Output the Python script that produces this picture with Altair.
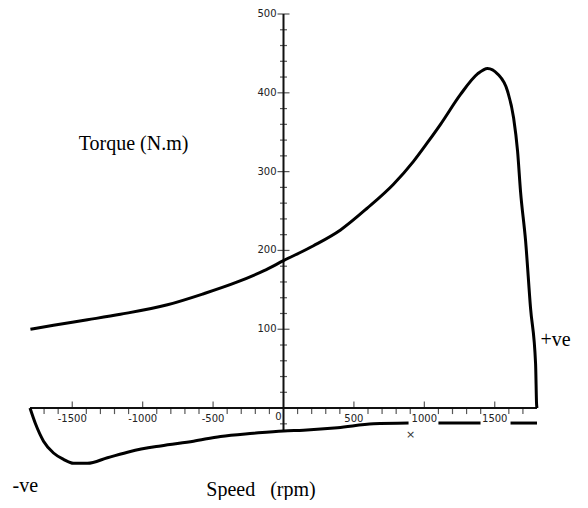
import altair as alt
import pandas as pd

# ---- data ----
# upper (motoring) torque-speed curve
up_speed = [-1797, -1633, -1392, -1158, -824, -568, -327, -142, 0, 213, 405, 597, 781,
            923, 1023, 1115, 1257, 1378, 1449, 1520, 1591, 1634, 1662, 1683, 1719, 1754,
            1790, 1797, 1800]
up_torque = [100, 105, 112, 119, 131, 145, 160, 174, 187, 206, 226, 254, 284,
             313, 337, 360, 398, 424, 431, 424, 402, 368, 326, 275, 212, 127,
             56, 5, 0]

# lower (braking) curve, drawn in three pieces (gaps where tick labels sit)
low_speed = [-1800, -1761, -1704, -1633, -1562, -1491, -1392, -1250, -1087, -873, -639,
             -447, -213, 0, 142, 384, 639, 888,
             1100, 1399,
             1612, 1800]
low_torque = [0, -20, -42, -57, -65, -70, -70, -63, -55, -48, -42,
              -36, -32, -29, -28, -25, -20, -19,
              -19, -19,
              -19, -19]
low_piece = ["a"] * 18 + ["b"] * 2 + ["c"] * 2

x_tick_labels = [-1500, -1000, -500, 500, 1000, 1500]
y_tick_labels = [100, 200, 300, 400, 500]
x_minor = [v for v in range(-1700, 1800, 100) if v % 500 != 0]
y_minor = [v for v in range(-20, 500, 20) if v % 100 != 0]

ann_text = ["Torque (N.m)", "+ve", "-ve", "Speed\u00a0\u00a0\u00a0(rpm)"]
ann_x = [-1065, 1825, -1924, -160]
ann_y = [335, 86, -99, -112]
ann_align = ["center", "left", "left", "center"]
ann_base = ["middle", "middle", "middle", "alphabetic"]
ann_size = [20, 20, 20, 20]

X_DOM = [-1800, 1800]
Y_DOM = [-90, 500]

xs = alt.Scale(domain=X_DOM, nice=False, zero=False)
ys = alt.Scale(domain=Y_DOM, nice=False, zero=False)


def X(field="x"):
    return alt.X(f"{field}:Q", scale=xs, axis=None)


def Y(field="y"):
    return alt.Y(f"{field}:Q", scale=ys, axis=None)


up_df = pd.DataFrame({"x": up_speed, "y": up_torque})
low_df = pd.DataFrame({"x": low_speed, "y": low_torque, "piece": low_piece})

upper = alt.Chart(up_df).mark_line(color="black", strokeWidth=3, interpolate="monotone").encode(
    x=X(), y=Y())
lower = alt.Chart(low_df).mark_line(color="black", strokeWidth=3, interpolate="monotone").encode(
    x=X(), y=Y(), detail="piece:N")

# axes drawn through the scales
xaxis_df = pd.DataFrame({"x": [X_DOM[0]], "x2": [X_DOM[1]], "y": [0]})
yaxis_df = pd.DataFrame({"x": [0], "y": [-29], "y2": [500]})
xaxis = alt.Chart(xaxis_df).mark_rule(color="#111", strokeWidth=2).encode(
    x=X(), x2="x2:Q", y=Y())
yaxis = alt.Chart(yaxis_df).mark_rule(color="#111", strokeWidth=2).encode(
    x=X(), y=Y(), y2="y2:Q")

xmin_df = pd.DataFrame({"x": x_minor, "y": 0})
xmaj_df = pd.DataFrame({"x": x_tick_labels, "y": 0})
ymin_df = pd.DataFrame({"x": 0, "y": y_minor})
ymaj_df = pd.DataFrame({"x": 0, "y": y_tick_labels})

xminor_t = alt.Chart(xmin_df).mark_tick(orient="vertical", color="#111", size=6,
                                        thickness=1.2, yOffset=3).encode(x=X(), y=Y())
xmajor_t = alt.Chart(xmaj_df).mark_tick(orient="vertical", color="#111", size=7,
                                        thickness=1.2, yOffset=-3).encode(x=X(), y=Y())
yminor_t = alt.Chart(ymin_df).mark_tick(orient="horizontal", color="#111", size=7,
                                        thickness=1.2).encode(x=X(), y=Y())
ymajor_t = alt.Chart(ymaj_df).mark_tick(orient="horizontal", color="#111", size=12,
                                        thickness=1.2).encode(x=X(), y=Y())

lab_font = dict(font="DejaVu Sans", fontSize=10, color="#222")
xlab = alt.Chart(pd.DataFrame({"x": x_tick_labels, "y": 0,
                               "t": [str(v) for v in x_tick_labels]})).mark_text(
    baseline="middle", align="center", dy=11, **lab_font).encode(x=X(), y=Y(), text="t:N")
zlab = alt.Chart(pd.DataFrame({"x": [0], "y": [0], "t": ["0"]})).mark_text(
    baseline="middle", align="right", dx=-2, dy=9, **lab_font).encode(x=X(), y=Y(), text="t:N")
ylab = alt.Chart(pd.DataFrame({"x": 0, "y": y_tick_labels,
                               "t": [str(v) for v in y_tick_labels]})).mark_text(
    baseline="middle", align="right", dx=-7, **lab_font).encode(x=X(), y=Y(), text="t:N")

cross = alt.Chart(pd.DataFrame({"x": [902], "y": [-34], "t": ["×"]})).mark_text(
    font="DejaVu Sans", fontSize=11, color="#333").encode(x=X(), y=Y(), text="t:N")

ann_df = pd.DataFrame({"x": ann_x, "y": ann_y, "t": ann_text, "a": ann_align,
                       "b": ann_base, "s": ann_size})
ann_layers = []
for i in range(len(ann_df)):
    row = ann_df.iloc[[i]]
    ann_layers.append(
        alt.Chart(row).mark_text(
            font="Liberation Serif", fontSize=int(row["s"].iloc[0]), color="black",
            align=row["a"].iloc[0], baseline=row["b"].iloc[0]
        ).encode(x=X(), y=Y(), text="t:N"))

chart = alt.layer(
    xaxis, yaxis, xminor_t, xmajor_t, yminor_t, ymajor_t,
    upper, lower, xlab, zlab, ylab, cross, *ann_layers
).properties(
    width=507, height=465,
    autosize=alt.AutoSizeParams(type="none"),
    padding={"left": 22, "top": 6, "right": 43, "bottom": 21},
).configure_view(stroke=None)

chart.save("out.html", embed_options={"renderer": "svg", "actions": False})
